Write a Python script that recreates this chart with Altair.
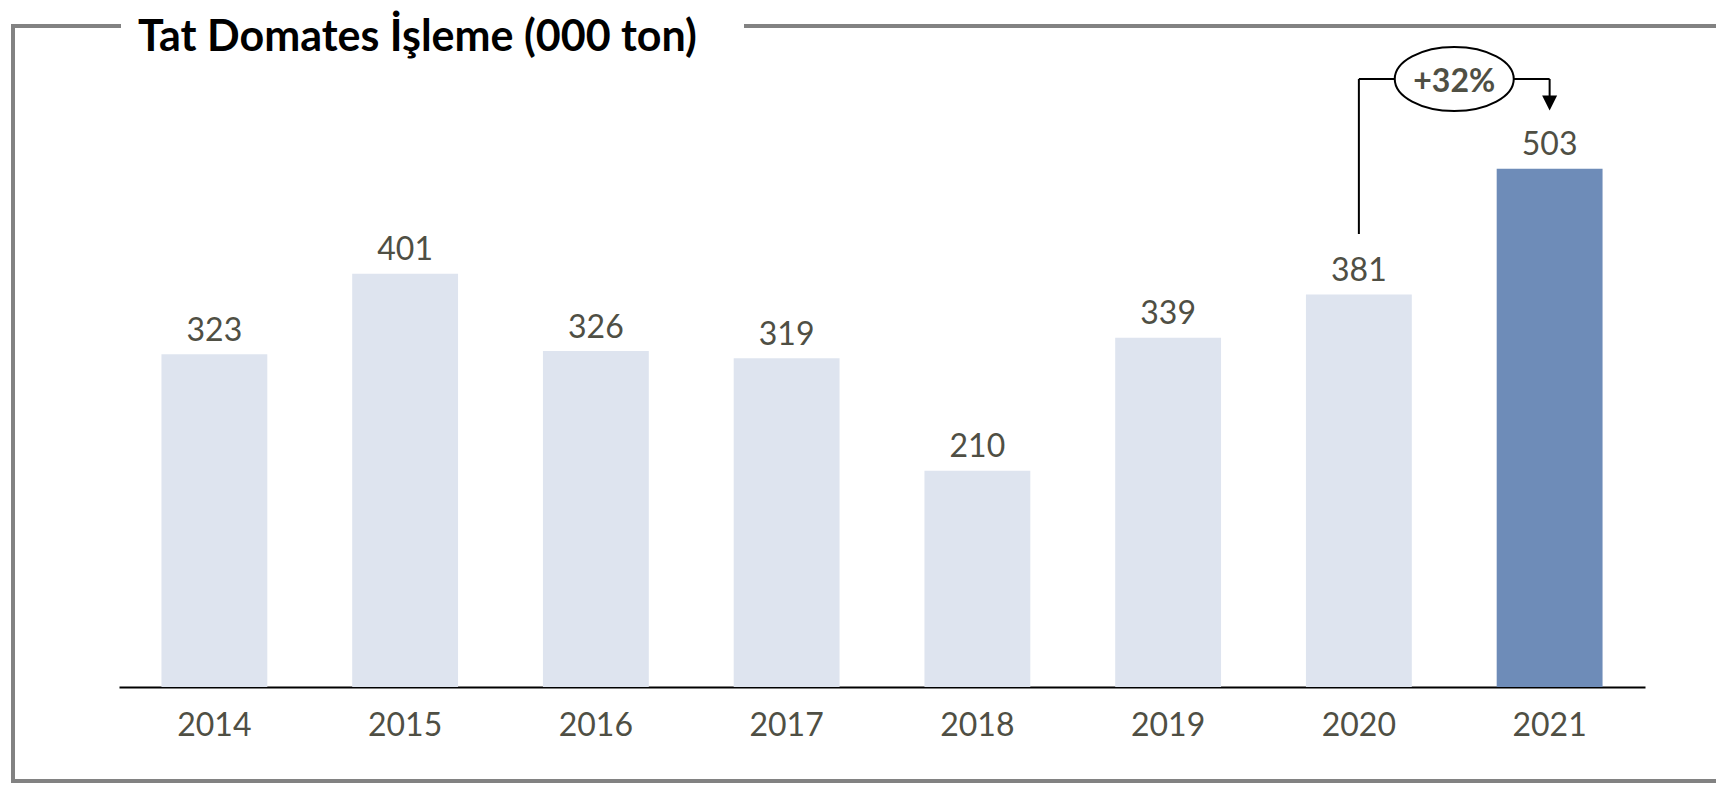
import altair as alt
import pandas as pd

# ---- data ----
years = ["2014", "2015", "2016", "2017", "2018", "2019", "2020", "2021"]
values = [323, 401, 326, 319, 210, 339, 381, 503]
title_text = "Tat Domates İşleme (000 ton)"
base_year = "2020"
highlight_year = "2021"

df = pd.DataFrame({"year": years, "value": values})
change = round((values[years.index(highlight_year)] / values[years.index(base_year)] - 1) * 100)
change_label = f"+{change}%"

# ---- styles ----
FONT = "Lato"
TEXT = "#4F4F44"
LIGHT = "#DEE4EF"
DARK = "#6E8CB8"
FRAME = "#828282"
W, H = 1526, 577
PAD = {"left": 111, "top": 102, "right": 71, "bottom": 97}
PI = 0.445
HALF_STEP = W / len(years) / 2

x_axis = alt.X(
    "year:N", sort=years,
    scale=alt.Scale(paddingInner=PI, paddingOuter=PI / 2),
    axis=alt.Axis(title=None, labelAngle=0, labelFont=FONT, labelFontSize=32,
                  labelColor=TEXT, labelBaseline="alphabetic", labelPadding=48,
                  ticks=False, tickSize=0, domainColor="black", domainWidth=2,
                  grid=False, labelOverlap=False),
)
x = alt.X("year:N", sort=years)
y = alt.Y("value:Q", scale=alt.Scale(domain=[0, 560], nice=False), axis=None)

base = alt.Chart(df)
bars = base.mark_bar().encode(
    x=x_axis, y=y,
    color=alt.condition(f"datum.year == '{highlight_year}'", alt.value(DARK), alt.value(LIGHT)),
)
labels = base.mark_text(font=FONT, fontSize=32, color=TEXT, baseline="alphabetic", dy=-13.5).encode(
    x=x, y=y, text="value:Q"
)

ann = base.transform_filter(alt.FieldOneOfPredicate(field="year", oneOf=[base_year, highlight_year]))
first = base.transform_filter(alt.datum.year == base_year)
last = base.transform_filter(alt.datum.year == highlight_year)

conn = ann.mark_line(color="black", strokeWidth=2).encode(x=x, y=alt.value(-31))
rise = first.mark_rule(color="black", strokeWidth=2).encode(x=x, y=alt.value(-31), y2=alt.value(124))
drop = last.mark_rule(color="black", strokeWidth=2).encode(x=x, y=alt.value(-31), y2=alt.value(-14))
arrow = last.mark_point(shape="M -1 -1 L 1 -1 L 0 1 Z", size=225, filled=True, color="black",
                        opacity=1).encode(x=x, y=alt.value(-7))
ellipse = first.mark_point(
    shape="M -1 0 A 1 0.538 0 1 0 1 0 A 1 0.538 0 1 0 -1 0 Z", size=14161,
    filled=True, fill="white", stroke="black", strokeWidth=2, opacity=1, fillOpacity=1,
    xOffset=HALF_STEP,
).encode(x=x, y=alt.value(-31))
pct = first.mark_text(font=FONT, fontWeight="bold", fontSize=32, color=TEXT, baseline="middle",
                      dy=3, xOffset=HALF_STEP).encode(x=x, y=alt.value(-31), text=alt.value(change_label))

one = alt.Data(values=[{"k": 1}])
def seg(**enc):
    return alt.Chart(one).mark_rule(color=FRAME, strokeWidth=4, strokeCap="square").encode(**enc)

frame = [
    seg(x=alt.value(-106), x2=alt.value(0), y=alt.value(-84)),
    seg(x=alt.value(627), x2=alt.value(1600), y=alt.value(-84)),
    seg(x=alt.value(-106), y=alt.value(-84), y2=alt.value(671)),
    seg(x=alt.value(-106), x2=alt.value(1600), y=alt.value(671)),
]
title = alt.Chart(one).mark_text(align="left", baseline="alphabetic", font=FONT, fontWeight="bold",
                                 fontSize=43, color="black").encode(
    x=alt.value(19), y=alt.value(-59), text=alt.value(title_text))

chart = alt.layer(bars, labels, conn, rise, drop, arrow, ellipse, pct, *frame, title).properties(
    width=W, height=H, padding=PAD, autosize="none"
).configure_view(stroke=None)

chart.save("out.html", embed_options={"renderer": "svg", "actions": False})
